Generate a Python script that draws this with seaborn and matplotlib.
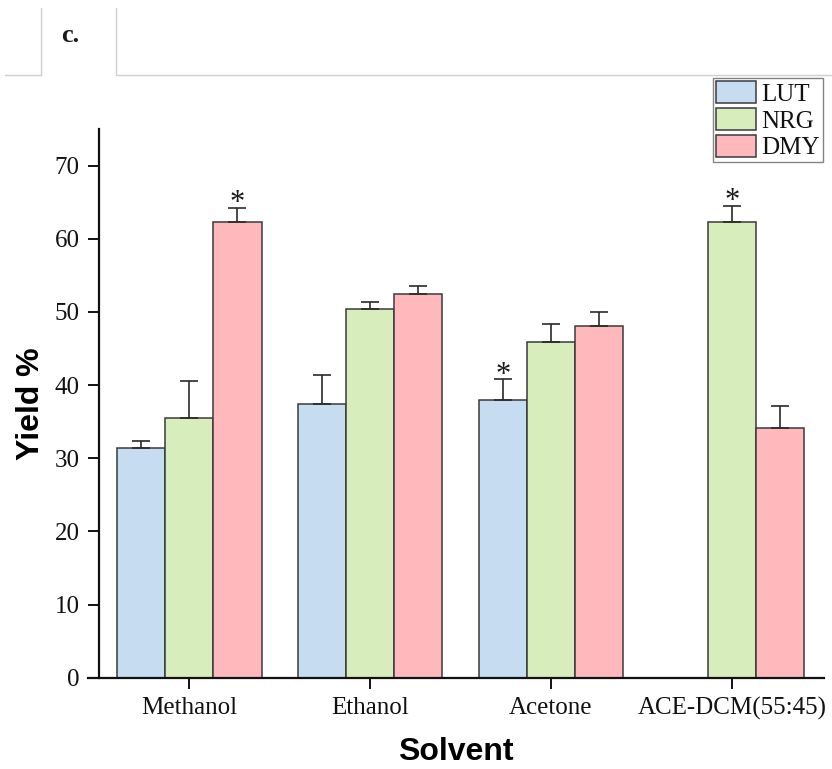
import numpy as np
import pandas as pd
import matplotlib
matplotlib.use("Agg")
import matplotlib.pyplot as plt
from matplotlib.lines import Line2D
import seaborn as sns

# Extraction yield (%) of each flavonoid by solvent, with upper SD
solvents = ["Methanol", "Ethanol", "Acetone", "ACE-DCM(55:45)"]
compounds = ["LUT", "NRG", "DMY"]

lut_yield = [31.4, 37.4, 38.0, np.nan]
nrg_yield = [35.5, 50.4, 45.9, 62.3]
dmy_yield = [62.3, 52.4, 48.1, 34.1]

lut_err = [0.9, 4.0, 2.8, np.nan]
nrg_err = [5.1, 0.9, 2.5, 2.2]
dmy_err = [1.9, 1.2, 1.9, 3.1]

# significance markers
lut_star = [False, False, True, False]
nrg_star = [False, False, False, True]
dmy_star = [True, False, False, False]

colors = ["#C6DCF0", "#D7EDBC", "#FFB9BC"]

yields = {"LUT": lut_yield, "NRG": nrg_yield, "DMY": dmy_yield}
errors = {"LUT": lut_err, "NRG": nrg_err, "DMY": dmy_err}
stars = {"LUT": lut_star, "NRG": nrg_star, "DMY": dmy_star}

rows = []
for c in compounds:
    for s, v in zip(solvents, yields[c]):
        rows.append({"Solvent": s, "Compound": c, "Yield": v})
df = pd.DataFrame(rows)

sns.set_theme(style="ticks")
plt.rcParams["font.family"] = ["Liberation Serif", "DejaVu Serif"]
plt.rcParams["text.color"] = "#111111"
plt.rcParams["axes.labelcolor"] = "#111111"

W, H = 832, 769
fig = plt.figure(figsize=(W / 100, H / 100), dpi=100)
ax_left, ax_right, ax_bottom, ax_top = 88, 824, 677.7, 129
ax = fig.add_axes([ax_left / W, 1 - ax_bottom / H,
                   (ax_right - ax_left) / W, (ax_bottom - ax_top) / H])

sns.barplot(data=df, x="Solvent", y="Yield", hue="Compound",
            order=solvents, hue_order=compounds, palette=colors,
            edgecolor="#3a3a3a", linewidth=1.1, saturation=1,
            errorbar=None, ax=ax)

# upper error bars and asterisks
for c, cont in zip(compounds, ax.containers):
    for bar in cont:
        h = bar.get_height()
        if not np.isfinite(h):
            continue
        xc = bar.get_x() + bar.get_width() / 2
        i = int(round(xc))
        e = errors[c][i]
        ax.errorbar(xc, h, yerr=[[0], [e]], fmt="none", ecolor="#2a2a2a",
                    elinewidth=1.2, capsize=6.5, capthick=1.2, zorder=3)
        if stars[c][i]:
            ax.annotate("*", xy=(xc, h + e), xytext=(0, -2.5),
                        textcoords="offset points", ha="center",
                        va="baseline", fontsize=22, color="#1a1a1a")

ax.set_xlim(-0.56, 3.51)
ax.set_ylim(0, 75)
ax.set_yticks(range(0, 80, 10))
ax.spines["left"].set_position(("data", -0.5))
ax.spines["top"].set_visible(False)
ax.spines["right"].set_visible(False)
for sp in ("left", "bottom"):
    ax.spines[sp].set_linewidth(1.6)
    ax.spines[sp].set_color("#111111")
ax.tick_params(axis="both", direction="out", length=8, width=1.4,
               color="#111111", labelsize=18, labelcolor="#111111", pad=6)
ax.tick_params(axis="x", pad=6)

sans = ["Liberation Sans", "DejaVu Sans"]
ax.set_ylabel("Yield %", fontsize=23, fontweight="bold", family=sans,
              color="#000000")
ax.set_xlabel("Solvent", fontsize=23, fontweight="bold", family=sans,
              color="#000000")
ax.yaxis.set_label_coords((46 - ax_left) / (ax_right - ax_left), 0.5)
ax.xaxis.set_label_coords(0.5, (ax_bottom - 737) / (ax_bottom - ax_top))

# legend in the upper right corner
handles, labels = ax.get_legend_handles_labels()
ax.get_legend().remove()
leg = fig.legend(handles, labels, loc="upper left",
                 bbox_to_anchor=(713 / W, 1 - 78 / H), fontsize=18,
                 frameon=True, fancybox=False, borderpad=0.12,
                 borderaxespad=0, handletextpad=0.2, labelspacing=0.08,
                 handlelength=1.6, handleheight=1.0)
leg.get_frame().set_edgecolor("#666666")
leg.get_frame().set_linewidth(1.0)

# panel header tab
grey = "#cfcfcf"
fig.add_artist(Line2D([41 / W, 41 / W], [1 - 8 / H, 1 - 74.5 / H], color=grey, lw=1))
fig.add_artist(Line2D([116 / W, 116 / W], [1 - 8 / H, 1 - 74.5 / H], color=grey, lw=1))
fig.add_artist(Line2D([5 / W, 41 / W], [1 - 74.5 / H, 1 - 74.5 / H], color=grey, lw=1))
fig.add_artist(Line2D([116 / W, 1], [1 - 74.5 / H, 1 - 74.5 / H], color=grey, lw=1))
fig.text(70.5 / W, 1 - 42 / H, "c.", fontsize=19, fontweight="bold",
         ha="center", va="baseline", color="#1a1a1a")

fig.savefig("out.png", dpi=100, facecolor="white")
